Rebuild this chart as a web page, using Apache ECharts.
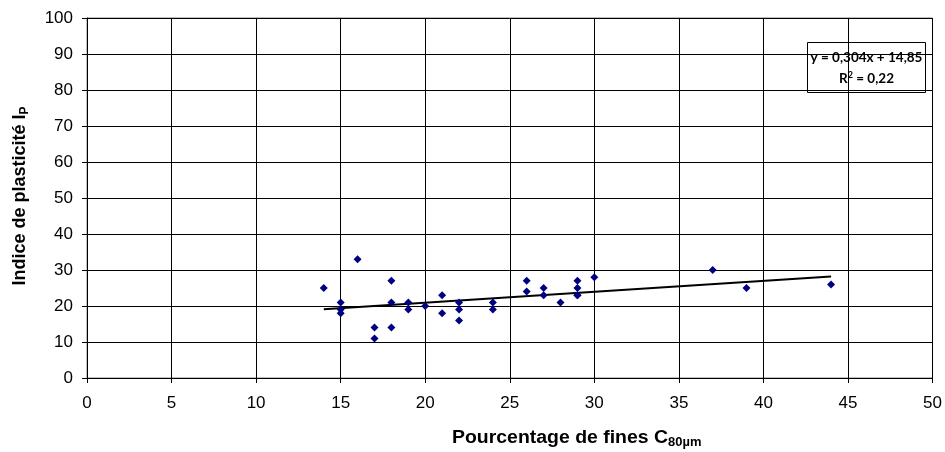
<!DOCTYPE html>
<html>
<head>
<meta charset="utf-8">
<script src="https://cdn.jsdelivr.net/npm/echarts@6/dist/echarts.min.js"></script>
<style>html,body{margin:0;padding:0;background:#fff}#c{width:945px;height:452px}</style>
</head>
<body>
<div id="c"></div>
<script>
// Data
var finesPct = [14, 15, 15, 15, 16, 17, 17, 18, 18, 18, 19, 19, 20, 21, 21, 22, 22, 22, 24, 24, 26, 26, 27, 27, 28, 29, 29, 29, 29, 30, 37, 39, 44];
var plastIdx = [25, 21, 19, 18, 33, 14, 11, 27, 21, 14, 21, 19, 20, 23, 18, 21, 19, 16, 21, 19, 27, 24, 25, 23, 21, 27, 25, 23, 23, 28, 30, 25, 26];
var trendX = [14, 44];
var trendY = [19.1, 28.2];
var xTicks = [0, 5, 10, 15, 20, 25, 30, 35, 40, 45, 50];
var yTicks = [0, 10, 20, 30, 40, 50, 60, 70, 80, 90, 100];
var eqText = 'y = 0,304x + 14,85';
var r2Text = '0,22';

var pts = finesPct.map(function (x, i) { return [x, plastIdx[i]]; });
var trend = trendX.map(function (x, i) { return [x, trendY[i]]; });

var chart = echarts.init(document.getElementById('c'));
var labelFont = { fontFamily: 'Liberation Sans, Arial, sans-serif', fontSize: 17, color: '#000' };
chart.setOption({
  animation: false,
  backgroundColor: '#fff',
  grid: { left: 87, right: 11, top: 18, bottom: 74, show: true, borderColor: '#808080', borderWidth: 1, backgroundColor: '#fff' },
  xAxis: {
    type: 'value', min: xTicks[0], max: xTicks[xTicks.length - 1], interval: 5,
    axisLine: { show: true, onZero: false, lineStyle: { color: '#000', width: 1 } },
    axisTick: { show: true, inside: false, length: 5, lineStyle: { color: '#000' } },
    axisLabel: Object.assign({ margin: 17 }, labelFont),
    splitLine: { show: true, lineStyle: { color: '#000', width: 1 } }
  },
  yAxis: {
    type: 'value', min: yTicks[0], max: yTicks[yTicks.length - 1], interval: 10,
    axisLine: { show: true, onZero: false, lineStyle: { color: '#000', width: 1 } },
    axisTick: { show: true, inside: false, length: 5, lineStyle: { color: '#000' } },
    axisLabel: Object.assign({ margin: 14 }, labelFont),
    splitLine: { show: true, lineStyle: { color: '#000', width: 1 } }
  },
  series: [
    {
      type: 'line', data: trend, showSymbol: false, symbol: 'none',
      lineStyle: { color: '#000', width: 2 }, z: 3, silent: true
    },
    {
      type: 'scatter', data: pts, symbol: 'diamond', symbolSize: 8,
      itemStyle: { color: '#000080', opacity: 1 }, z: 4
    }
  ],
  graphic: [
    {
      type: 'group', left: 807, top: 42, z: 10,
      children: [
        { type: 'rect', shape: { x: 0, y: 0, width: 118, height: 50 }, style: { fill: '#fff', stroke: '#000', lineWidth: 1 } },
        { type: 'text', x: 59, y: 15, style: { text: eqText, align: 'center', verticalAlign: 'middle', font: 'bold 13.5px Lato, Carlito, sans-serif', fill: '#000' } },
        { type: 'text', x: 59, y: 36, style: {
            text: '{r|R}{s|2}{r| = ' + r2Text + '}', align: 'center', verticalAlign: 'middle',
            rich: {
              r: { fontFamily: 'Lato, Carlito, sans-serif', fontWeight: 'bold', fontSize: 13.5, fill: '#000', color: '#000' },
              s: { fontFamily: 'Lato, Carlito, sans-serif', fontWeight: 'bold', fontSize: 9, fill: '#000', color: '#000', verticalAlign: 'top', padding: [0, 0, 7, 0] }
            } } }
      ]
    },
    {
      type: 'text', x: 452, y: 438, z: 10, scaleX: 1.08,
      style: {
        text: '{t|Pourcentage de fines C}{s|80µm}', align: 'left', verticalAlign: 'middle',
        rich: {
          t: { fontFamily: 'Liberation Sans, Arial, sans-serif', fontWeight: 'bold', fontSize: 18, color: '#000', fill: '#000' },
          s: { fontFamily: 'Liberation Sans, Arial, sans-serif', fontWeight: 'bold', fontSize: 12, color: '#000', fill: '#000', padding: [9, 0, 0, 0] }
        }
      }
    },
    {
      type: 'text', x: 20, y: 196, rotation: Math.PI / 2, z: 10,
      style: {
        text: '{t|Indice de plasticité I}{s|P}', align: 'center', verticalAlign: 'middle',
        rich: {
          t: { fontFamily: 'Liberation Sans, Arial, sans-serif', fontWeight: 'bold', fontSize: 18, color: '#000', fill: '#000' },
          s: { fontFamily: 'Liberation Sans, Arial, sans-serif', fontWeight: 'bold', fontSize: 12, color: '#000', fill: '#000', padding: [9, 0, 0, 0] }
        }
      }
    }
  ]
});
</script>
</body>
</html>
